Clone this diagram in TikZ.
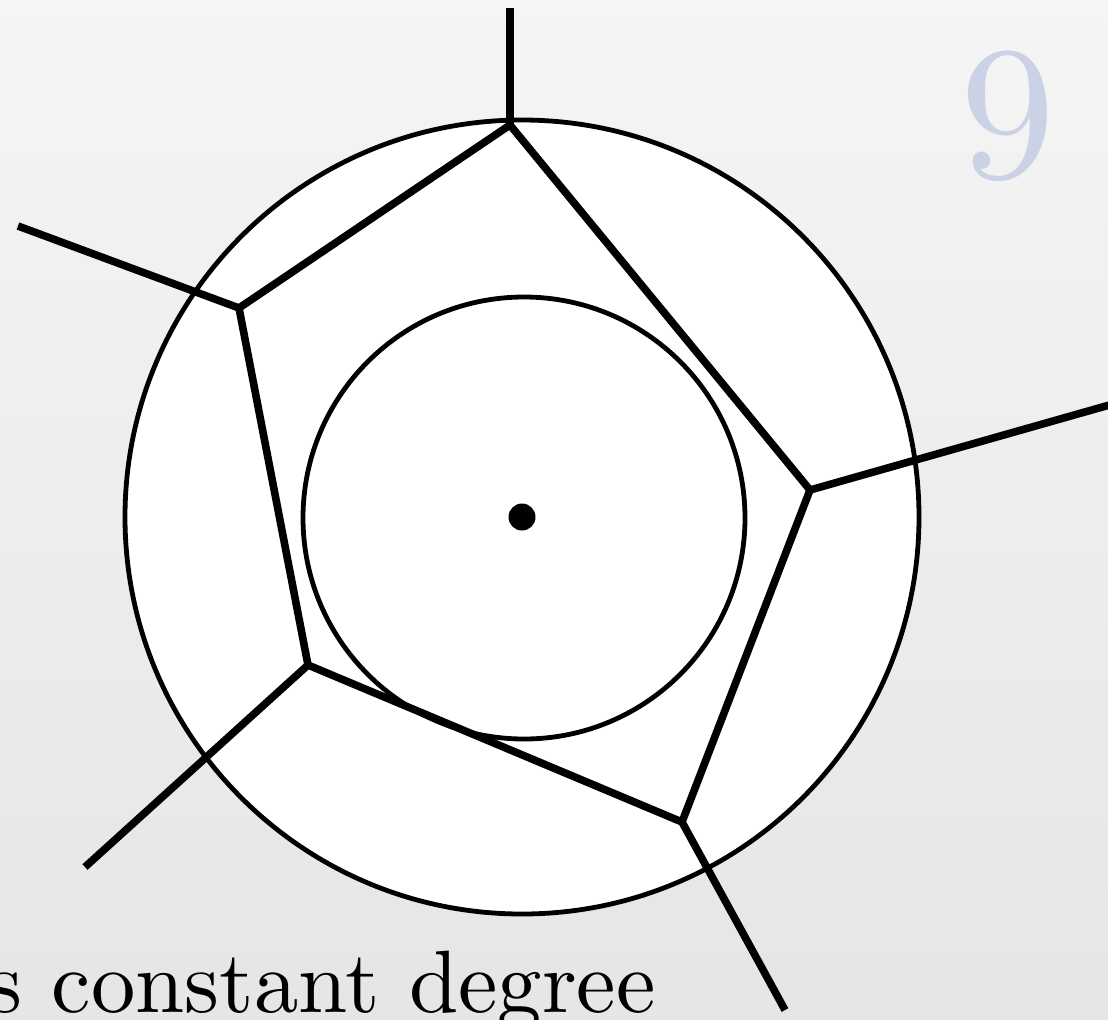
\documentclass[tikz,border=0pt]{standalone}
\usepackage{xcolor}
\usepackage{graphicx}
\usepackage{tikz}

\definecolor{slidenum}{RGB}{204,210,230}

\begin{document}
\begin{tikzpicture}[
  x=0.5pt,y=-0.5pt,
  disc/.style={
    draw,
    fill=white,
    line width=2.4pt
  },
  cell/.style={line width=3.8pt,line cap=butt},
  site/.style={circle,fill=black,inner sep=0pt,minimum size=13.5pt}
]
  \clip (0,0) rectangle (1108,1019);
  \shade[top color=black!4,bottom color=black!10] (0,0) rectangle (1108,1019);

  \coordinate (c) at (522,517);
  \draw[disc] (c) circle[radius=397];
  \draw[disc] (524,518) circle[radius=221];
  \node[site] (p) at (c) {};

  % cell corners and the far ends of the rays
  \coordinate (v1) at (510,125);
  \coordinate (v2) at (239,308);
  \coordinate (v3) at (308,665);
  \coordinate (v4) at (682,822);
  \coordinate (v5) at (810,490);
  \coordinate (r1) at (510,8);
  \coordinate (r2) at (18,226);
  \coordinate (r3) at (85,867);
  \coordinate (r4) at (785,1010);
  \coordinate (r5) at (1120,402);

  \draw[cell] (v1) -- (v2);
  \draw[cell] (v2) -- (v3);
  \draw[cell] (v3) -- (v4);
  \draw[cell] (v4) -- (v5);
  \draw[cell] (v5) -- (v1);
  \foreach \i in {1,...,5}
    \draw[cell] (v\i) -- (r\i);

  \node[anchor=base,text=slidenum,inner sep=0pt]
    (num) at (1008,177) {\scalebox{9.5}{9}};
  \node[anchor=base east,inner sep=0pt]
    (caption) at (656,1012) {\scalebox{4.43}{s constant degree}};
\end{tikzpicture}
\end{document}
